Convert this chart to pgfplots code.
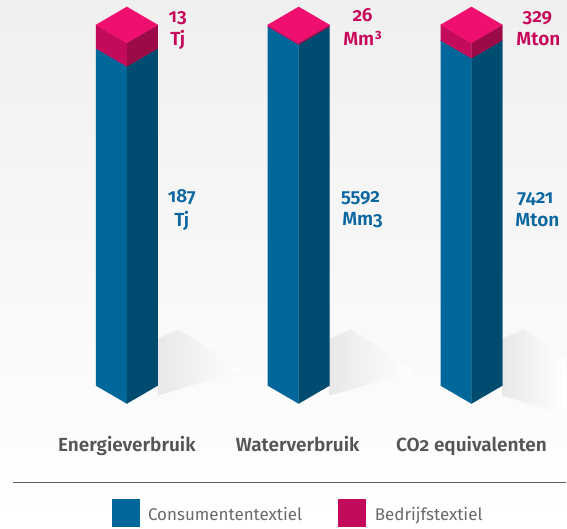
\documentclass[border=0pt]{standalone}
\usepackage{fontspec}
\setmainfont{Fira Sans}[Numbers=OldStyle]
\newfontfamily\semib{Fira Sans SemiBold}[Numbers=OldStyle]
\usepackage{pgfplots}
\pgfplotsset{compat=1.18}
\definecolor{blueL}{HTML}{00679B}
\definecolor{blueR}{HTML}{004B70}
\definecolor{pinkT}{HTML}{EE0F6E}
\definecolor{pinkL}{HTML}{C40A5A}
\definecolor{pinkR}{HTML}{9C0A48}
\definecolor{pinkTxt}{HTML}{C8075A}
\definecolor{blueTxt}{HTML}{0B67A0}
\definecolor{catTxt}{HTML}{555555}
\definecolor{legTxt}{HTML}{6A6A6A}
% y in percent of the stacked bar; pixel row py -> (404-py)/3.61
\newcommand{\PY}[1]{{(404-#1)/3.61}}
\begin{document}
\begin{tikzpicture}
\begin{axis}[width=567bp,height=529bp,scale only axis,hide axis,
  xmin=0,xmax=567,ymin=-34.626,ymax=111.911,clip=false]
% background
\fill[top color=black!6,bottom color=white] (rel axis cs:0,0) rectangle (rel axis cs:1,1);
% shadows
\addplot[draw=none,left color=black!9,right color=white] coordinates {(158,18.0)(179,20.5)(243,9.1)(158,2.2)};
\addplot[draw=none,left color=black!9,right color=white] coordinates {(330,18.0)(351,20.5)(415,9.1)(330,2.2)};
\addplot[draw=none,left color=black!9,right color=white] coordinates {(503,18.0)(524,20.5)(567,12.2)(567,-3.2)(503,2.2)};
% ---- Energieverbruik: 187 / 13  -> 93.5 % / 6.5 %
\addplot[fill=blueL,draw=blueL,line width=0.2pt] coordinates {(96,5)(127,0)(127,93.5)(96,98.5)};
\addplot[fill=blueR,draw=blueR,line width=0.2pt] coordinates {(127,0)(158,5)(158,98.5)(127,93.5)};
\addplot[fill=pinkL,draw=pinkL,line width=0.2pt] coordinates {(96,98.5)(127,93.5)(127,100)(96,105)};
\addplot[fill=pinkR,draw=pinkR,line width=0.2pt] coordinates {(127,93.5)(158,98.5)(158,105)(127,100)};
\addplot[fill=pinkT,draw=pinkT,line width=0.2pt] coordinates {(127,100)(96,105)(127,110)(158,105)};
% ---- Waterverbruik: 5592 / 26 -> 99.54 % / 0.46 %
\addplot[fill=blueL,draw=blueL,line width=0.2pt] coordinates {(268,5)(299,0)(299,99.54)(268,104.54)};
\addplot[fill=blueR,draw=blueR,line width=0.2pt] coordinates {(299,0)(330,5)(330,104.54)(299,99.54)};
\addplot[fill=pinkL,draw=pinkL,line width=0.2pt] coordinates {(268,104.54)(299,99.54)(299,100)(268,105)};
\addplot[fill=pinkR,draw=pinkR,line width=0.2pt] coordinates {(299,99.54)(330,104.54)(330,105)(299,100)};
\addplot[fill=pinkT,draw=pinkT,line width=0.2pt] coordinates {(299,100)(268,105)(299,110)(330,105)};
% ---- CO2 equivalenten: 7421 / 329 -> 95.75 % / 4.25 %
\addplot[fill=blueL,draw=blueL,line width=0.2pt] coordinates {(441,5)(472,0)(472,95.75)(441,100.75)};
\addplot[fill=blueR,draw=blueR,line width=0.2pt] coordinates {(472,0)(503,5)(503,100.75)(472,95.75)};
\addplot[fill=pinkL,draw=pinkL,line width=0.2pt] coordinates {(441,100.75)(472,95.75)(472,100)(441,105)};
\addplot[fill=pinkR,draw=pinkR,line width=0.2pt] coordinates {(472,95.75)(503,100.75)(503,105)(472,100)};
\addplot[fill=pinkT,draw=pinkT,line width=0.2pt] coordinates {(472,100)(441,105)(472,110)(503,105)};
% value labels
\begin{scope}[every node/.style={anchor=base,inner sep=0pt,font=\semib\fontsize{19bp}{21bp}\selectfont}]
\node[text=pinkTxt] at (axis cs:178,\PY{23}) {13};
\node[text=pinkTxt] at (axis cs:178,\PY{46}) {Tj};
\node[text=pinkTxt] at (axis cs:363,\PY{22}) {26};
\node[text=pinkTxt] at (axis cs:363,\PY{46}) {Mm³};
\node[text=pinkTxt] at (axis cs:538,\PY{23}) {329};
\node[text=pinkTxt] at (axis cs:539,\PY{46}) {Mton};
\node[text=blueTxt] at (axis cs:182,\PY{203}) {187};
\node[text=blueTxt] at (axis cs:182,\PY{227}) {Tj};
\node[text=blueTxt] at (axis cs:361,\PY{203}) {5592};
\node[text=blueTxt] at (axis cs:363,\PY{226}) {Mm3};
\node[text=blueTxt] at (axis cs:536,\PY{204}) {7421};
\node[text=blueTxt] at (axis cs:538,\PY{227}) {Mton};
\end{scope}
% category labels
\begin{scope}[every node/.style={anchor=base,inner sep=0pt,text=catTxt,font=\semib\fontsize{19bp}{21bp}\selectfont}]
\node at (axis cs:127,\PY{452}) {Energieverbruik};
\node at (axis cs:298,\PY{452}) {Waterverbruik};
\node at (axis cs:472,\PY{452}) {CO2 equivalenten};
\end{scope}
% separator
\draw[black!62,line width=1.3bp] (axis cs:13,\PY{483}) -- (axis cs:567,\PY{483});
% legend
\fill[blueL] (axis cs:112,\PY{500}) rectangle (axis cs:140,\PY{528});
\fill[pinkL] (axis cs:338,\PY{500}) rectangle (axis cs:366,\PY{528});
\begin{scope}[every node/.style={anchor=base west,inner sep=0pt,text=legTxt,font=\fontsize{17bp}{19bp}\selectfont}]
\node at (axis cs:148,\PY{521}) {Consumententextiel};
\node at (axis cs:375,\PY{521}) {Bedrijfstextiel};
\end{scope}
\end{axis}
\end{tikzpicture}
\end{document}
